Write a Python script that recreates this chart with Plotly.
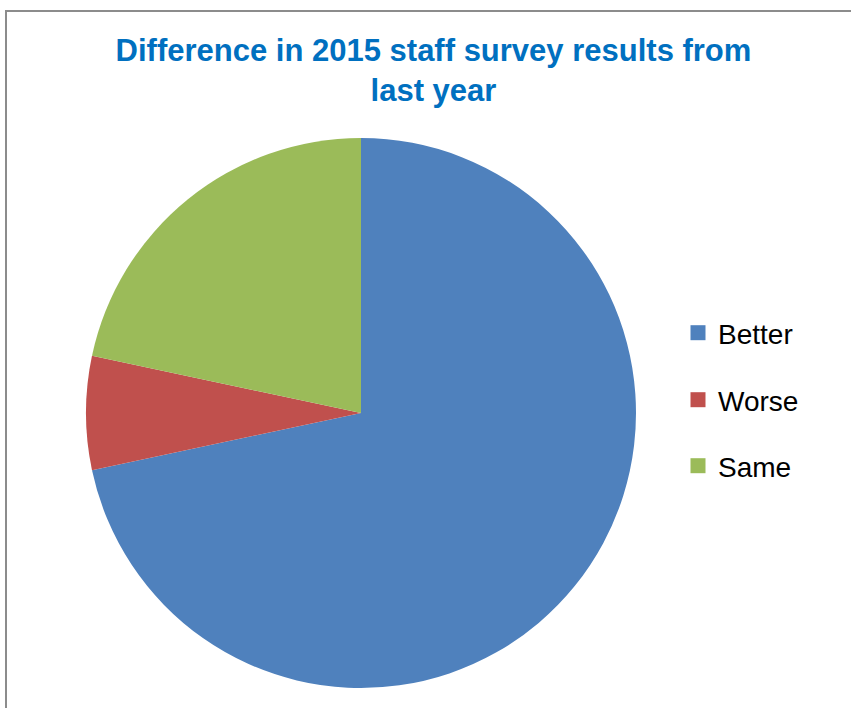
import plotly.graph_objects as go

labels = ["Better", "Worse", "Same"]
values = [43, 4, 13]
colors = ["#4F81BD", "#C0504D", "#9BBB59"]
title_text = "Difference in 2015 staff survey results from<br>last year"

W, H = 851, 708

fig = go.Figure()
fig.add_trace(go.Pie(
    labels=labels, values=values, sort=False, direction="clockwise", rotation=0,
    marker=dict(colors=colors, line=dict(width=0)),
    textinfo="none", hoverinfo="label+value+percent", showlegend=False,
    domain=dict(x=[86 / W, 636 / W], y=[1 - 688 / H, 1 - 138 / H]),
))

legend_names = ["legend", "legend2", "legend3"]
legend_ys = [333, 400, 466]
for lab, col, lg in zip(labels, colors, legend_names):
    fig.add_trace(go.Scatter(
        x=[None], y=[None], mode="markers", name=lab, legend=lg,
        marker=dict(symbol="square", size=15, color=col),
    ))

leg_common = dict(x=678 / W, xanchor="left", yanchor="middle",
                  font=dict(family="Liberation Sans, Arial, sans-serif", size=28, color="#000000"),
                  bgcolor="rgba(0,0,0,0)", borderwidth=0)
layout_legends = {}
for lg, yy in zip(legend_names, legend_ys):
    layout_legends[lg] = dict(y=1 - yy / H, **leg_common)

fig.update_layout(
    width=W, height=H,
    margin=dict(l=0, r=0, t=0, b=0),
    paper_bgcolor="white", plot_bgcolor="white",
    xaxis=dict(visible=False), yaxis=dict(visible=False),
    title=dict(text=title_text, x=433.5 / W, xanchor="center", y=1 - 61 / H, yanchor="top",
               font=dict(family="Liberation Sans, Arial, sans-serif", size=31, color="#0070C0",
                         weight="bold")),
    shapes=[dict(type="rect", xref="paper", yref="paper", layer="above",
                 x0=6 / W, x1=1.2, y0=-0.2, y1=1 - 11 / H,
                 line=dict(color="#8C8C8C", width=2), fillcolor="rgba(0,0,0,0)")],
    showlegend=True,
    **layout_legends,
)

fig.write_html("out.html")
